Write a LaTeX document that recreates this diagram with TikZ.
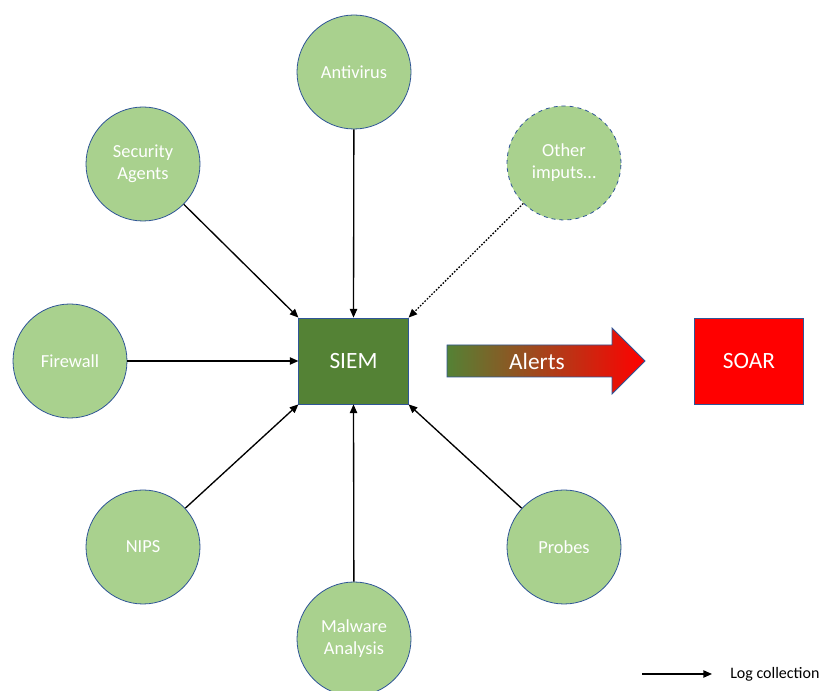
\documentclass[tikz,border=0pt]{standalone}
\usepackage{fontspec}
\setmainfont{Carlito}
\usetikzlibrary{arrows.meta}
\definecolor{nodegreen}{HTML}{A9D18E}
\definecolor{siemgreen}{HTML}{548235}
\definecolor{edgeblue}{HTML}{2F5597}
\definecolor{soarred}{HTML}{FF0000}
\tikzset{
  source/.style={circle, draw=edgeblue, line width=0.6pt, fill=nodegreen,
    minimum size=85.5pt, inner sep=0pt, align=center, text=white,
    font=\fontsize{13.8}{16.5}\selectfont},
  hub/.style={rectangle, draw=edgeblue, line width=0.6pt, text=white,
    minimum width=82pt, minimum height=64.5pt, inner sep=0pt,
    font=\fontsize{17.5}{21}\selectfont},
  logflow/.style={-{Triangle[length=6.5pt,width=5.5pt]}, line width=1pt, black},
}
\begin{document}
\begin{tikzpicture}[x=0.75pt, y=-0.75pt]
\useasboundingbox (0,0) rectangle (819,691);

% central collector and orchestrator
\node[hub, fill=siemgreen] (siem) at (353.5,361) {SIEM};
\node[hub, fill=soarred]   (soar) at (749,361)   {SOAR};

% log sources
\node[source] (av)   at (354,72)  {Antivirus};
\node[source] (sa)   at (143,164) {Security\\Agents};
\node[source, dashed] (oth) at (564,163) {Other\\imputs\dots};
\node[source] (fw)   at (70,361)  {Firewall};
\node[source] (nips) at (143,547) {NIPS};
\node[source] (mal)  at (354,639) {Malware\\Analysis};
\node[source] (prb)  at (564,547) {Probes};

% log collection links
\draw[logflow] (av)   -- (siem.north);
\draw[logflow] (sa)   -- (siem.north west);
\draw[logflow, dash pattern=on 1.2pt off 1.2pt] (oth) -- (siem.north east);
\draw[logflow] (fw)   -- (siem.west);
\draw[logflow] (nips) -- (siem.south west);
\draw[logflow] (mal)  -- (siem.south);
\draw[logflow] (prb)  -- (siem.south east);

% alerts arrow with green-to-red fill
\shade[left color=siemgreen, right color=soarred, draw=edgeblue, line width=0.6pt]
  (447,345) -- (612,345) -- (612,328) -- (645,361) -- (612,394) -- (612,377) -- (447,377) -- cycle;
\node[text=white, font=\fontsize{17.5}{21}\selectfont] (alerts) at (537,361) {Alerts};

% legend
\coordinate (lgA) at (642,674);
\coordinate (lgB) at (712,674);
\draw[logflow] (lgA) -- (lgB);
\node[anchor=west, font=\fontsize{12}{14}\selectfont, inner sep=0pt] (lgT) at (730,674) {Log collection};
\end{tikzpicture}
\end{document}
